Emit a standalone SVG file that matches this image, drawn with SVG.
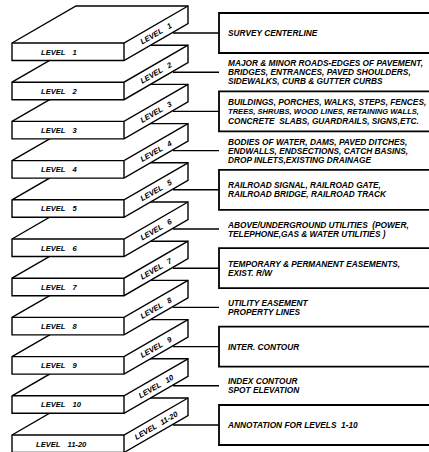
<svg xmlns="http://www.w3.org/2000/svg" xmlns:xlink="http://www.w3.org/1999/xlink" width="429" height="452" viewBox="0 0 429 452">
<style>
.outline{fill:#fff;stroke:#000;stroke-width:1.4;stroke-linejoin:miter}
.edge{fill:none;stroke:#000;stroke-width:1.4}
.lbl{font-family:"Liberation Sans",Arial,sans-serif;font-style:italic;font-weight:bold;font-size:7.6px;fill:#000}
.desc{font-family:"Liberation Sans",Arial,sans-serif;font-style:italic;font-weight:bold;font-size:8.3px;fill:#000;white-space:pre}
.conn{fill:none;stroke:#000;stroke-width:1.4}
.box{fill:none;stroke:#000;stroke-width:1.8}
</style>
<defs>
<g id="slab">
<path class="outline" d="M12,0 L76,-37 L188,-37 L188,-19.5 L124,17.5 L12,17.5 Z"/>
<path class="edge" d="M12,0 H124 L188,-37 M124,0 V17.5"/>
</g>
</defs>

<!-- slabs drawn bottom to top so upper slabs hide lower ones -->
<g id="level11">
<use xlink:href="#slab" y="435"/>
<text class="lbl" x="36" y="446.5">LEVEL<tspan dx="7">11-20</tspan></text>
<text class="lbl" transform="translate(156,425.5) rotate(-30)" x="0" y="2.7" text-anchor="middle">LEVEL<tspan dx="5">11-20</tspan></text>
</g>
<g id="level10">
<use xlink:href="#slab" y="395.8"/>
<text class="lbl" x="41" y="407.3">LEVEL<tspan dx="7">10</tspan></text>
<text class="lbl" transform="translate(156,386.3) rotate(-30)" x="0" y="2.7" text-anchor="middle">LEVEL<tspan dx="6">10</tspan></text>
</g>
<g id="level9">
<use xlink:href="#slab" y="356.6"/>
<text class="lbl" x="41" y="368.1">LEVEL<tspan dx="7">9</tspan></text>
<text class="lbl" transform="translate(156,347.1) rotate(-30)" x="0" y="2.7" text-anchor="middle">LEVEL<tspan dx="6">9</tspan></text>
</g>
<g id="level8">
<use xlink:href="#slab" y="317.4"/>
<text class="lbl" x="41" y="328.9">LEVEL<tspan dx="7">8</tspan></text>
<text class="lbl" transform="translate(156,307.9) rotate(-30)" x="0" y="2.7" text-anchor="middle">LEVEL<tspan dx="6">8</tspan></text>
</g>
<g id="level7">
<use xlink:href="#slab" y="278.2"/>
<text class="lbl" x="41" y="289.7">LEVEL<tspan dx="7">7</tspan></text>
<text class="lbl" transform="translate(156,268.7) rotate(-30)" x="0" y="2.7" text-anchor="middle">LEVEL<tspan dx="6">7</tspan></text>
</g>
<g id="level6">
<use xlink:href="#slab" y="239"/>
<text class="lbl" x="41" y="250.5">LEVEL<tspan dx="7">6</tspan></text>
<text class="lbl" transform="translate(156,229.5) rotate(-30)" x="0" y="2.7" text-anchor="middle">LEVEL<tspan dx="6">6</tspan></text>
</g>
<g id="level5">
<use xlink:href="#slab" y="199.8"/>
<text class="lbl" x="41" y="211.3">LEVEL<tspan dx="7">5</tspan></text>
<text class="lbl" transform="translate(156,190.3) rotate(-30)" x="0" y="2.7" text-anchor="middle">LEVEL<tspan dx="6">5</tspan></text>
</g>
<g id="level4">
<use xlink:href="#slab" y="160.6"/>
<text class="lbl" x="41" y="172.1">LEVEL<tspan dx="7">4</tspan></text>
<text class="lbl" transform="translate(156,151.1) rotate(-30)" x="0" y="2.7" text-anchor="middle">LEVEL<tspan dx="6">4</tspan></text>
</g>
<g id="level3">
<use xlink:href="#slab" y="121.4"/>
<text class="lbl" x="41" y="132.9">LEVEL<tspan dx="7">3</tspan></text>
<text class="lbl" transform="translate(156,111.9) rotate(-30)" x="0" y="2.7" text-anchor="middle">LEVEL<tspan dx="6">3</tspan></text>
</g>
<g id="level2">
<use xlink:href="#slab" y="82.2"/>
<text class="lbl" x="41" y="93.7">LEVEL<tspan dx="7">2</tspan></text>
<text class="lbl" transform="translate(156,72.7) rotate(-30)" x="0" y="2.7" text-anchor="middle">LEVEL<tspan dx="6">2</tspan></text>
</g>
<g id="level1">
<use xlink:href="#slab" y="43"/>
<text class="lbl" x="41" y="54.5">LEVEL<tspan dx="7">1</tspan></text>
<text class="lbl" transform="translate(156,33.5) rotate(-30)" x="0" y="2.7" text-anchor="middle">LEVEL<tspan dx="6">1</tspan></text>
</g>

<g id="connectors">
<path class="conn" d="M173,33 H219 M173,72.2 H219 M173,111.4 H219 M173,150.6 H219 M173,189.8 H219 M173,229 H219 M173,268.2 H219 M173,307.4 H219 M173,346.6 H219 M173,385.8 H219 M173,425 H219"/>
</g>

<g id="desc1">
<path class="box" d="M429,13 H219 V53 H429"/>
<text class="desc" x="228" y="36">SURVEY CENTERLINE</text>
</g>
<g id="desc2">
<text class="desc" x="228" y="66.1">MAJOR &amp; MINOR ROADS-EDGES OF PAVEMENT,</text>
<text class="desc" x="228" y="75.2">BRIDGES, ENTRANCES, PAVED SHOULDERS,</text>
<text class="desc" x="228" y="84.3">SIDEWALKS, CURB &amp; GUTTER CURBS</text>
</g>
<g id="desc3">
<path class="box" d="M429,91.4 H219 V131.4 H429"/>
<text class="desc" x="228" y="105.3">BUILDINGS, PORCHES, WALKS, STEPS, FENCES,</text>
<text class="desc" x="228" y="114.4" style="font-size:7.6px">TREES, SHRUBS, WOOD LINES, RETAINING WALLS,</text>
<text class="desc" x="228" y="123.5">CONCRETE  SLABS, GUARDRAILS, SIGNS,ETC.</text>
</g>
<g id="desc4">
<text class="desc" x="228" y="144.5">BODIES OF WATER, DAMS, PAVED DITCHES,</text>
<text class="desc" x="228" y="153.6">ENDWALLS, ENDSECTIONS, CATCH BASINS,</text>
<text class="desc" x="228" y="162.7">DROP INLETS,EXISTING DRAINAGE</text>
</g>
<g id="desc5">
<path class="box" d="M429,169.8 H219 V209.8 H429"/>
<text class="desc" x="228" y="188.3">RAILROAD SIGNAL, RAILROAD GATE,</text>
<text class="desc" x="228" y="197.4">RAILROAD BRIDGE, RAILROAD TRACK</text>
</g>
<g id="desc6">
<text class="desc" x="228" y="227.5">ABOVE/UNDERGROUND UTILITIES  (POWER,</text>
<text class="desc" x="228" y="236.6">TELEPHONE,GAS &amp; WATER UTILITIES )</text>
</g>
<g id="desc7">
<path class="box" d="M429,248.2 H219 V288.2 H429"/>
<text class="desc" x="228" y="266.7">TEMPORARY &amp; PERMANENT EASEMENTS,</text>
<text class="desc" x="228" y="275.8">EXIST. R/W</text>
</g>
<g id="desc8">
<text class="desc" x="228" y="305.9">UTILITY EASEMENT</text>
<text class="desc" x="228" y="315">PROPERTY LINES</text>
</g>
<g id="desc9">
<path class="box" d="M429,326.6 H219 V366.6 H429"/>
<text class="desc" x="228" y="349.6">INTER. CONTOUR</text>
</g>
<g id="desc10">
<text class="desc" x="228" y="384.3">INDEX CONTOUR</text>
<text class="desc" x="228" y="393.4">SPOT ELEVATION</text>
</g>
<g id="desc11">
<path class="box" d="M429,405 H219 V445 H429"/>
<text class="desc" x="228" y="428">ANNOTATION FOR LEVELS  1-10</text>
</g>
</svg>
